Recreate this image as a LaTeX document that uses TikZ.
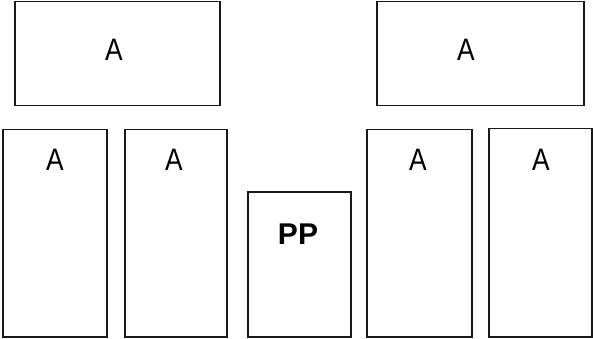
\documentclass[tikz,border=0pt]{standalone}
\usepackage{fontspec}
\setmainfont{Liberation Sans}
\newcommand{\narrowA}{\scalebox{0.85}[1]{A}}
\begin{document}
\begin{tikzpicture}[x=1pt,y=-1pt,
  box/.style={draw=black!90, line width=1.5pt, inner sep=0pt, anchor=north west},
  lbl/.style={font=\fontsize{31}{31}\selectfont, inner sep=0pt},
  blbl/.style={font=\fontsize{30}{30}\selectfont\bfseries, inner sep=0pt}]
\useasboundingbox (0,0) rectangle (593,339);
% top boxes
\node[box, minimum width=205pt, minimum height=104pt] (t1) at (14,1) {};
\node[box, minimum width=207pt, minimum height=104pt] (t2) at (376,1) {};
% bottom boxes
\node[box, minimum width=104pt, minimum height=207pt] (b1) at (2,129) {};
\node[box, minimum width=102pt, minimum height=207pt] (b2) at (124,129) {};
\node[box, minimum width=103pt, minimum height=145pt] (pp) at (247,191) {};
\node[box, minimum width=105pt, minimum height=207pt] (b4) at (366,129) {};
\node[box, minimum width=103pt, minimum height=208pt] (b5) at (488,128) {};
% labels
\node[lbl] (lt1) at (114,50) {\narrowA};
\node[lbl] (lt2) at (466,50) {\narrowA};
\node[lbl] (lb1) at (55,160) {\narrowA};
\node[lbl] (lb2) at (174,160) {\narrowA};
\node[blbl] (lpp) at (298,234) {PP};
\node[lbl] (lb4) at (418,160) {\narrowA};
\node[lbl] (lb5) at (541,160) {\narrowA};
\end{tikzpicture}
\end{document}
